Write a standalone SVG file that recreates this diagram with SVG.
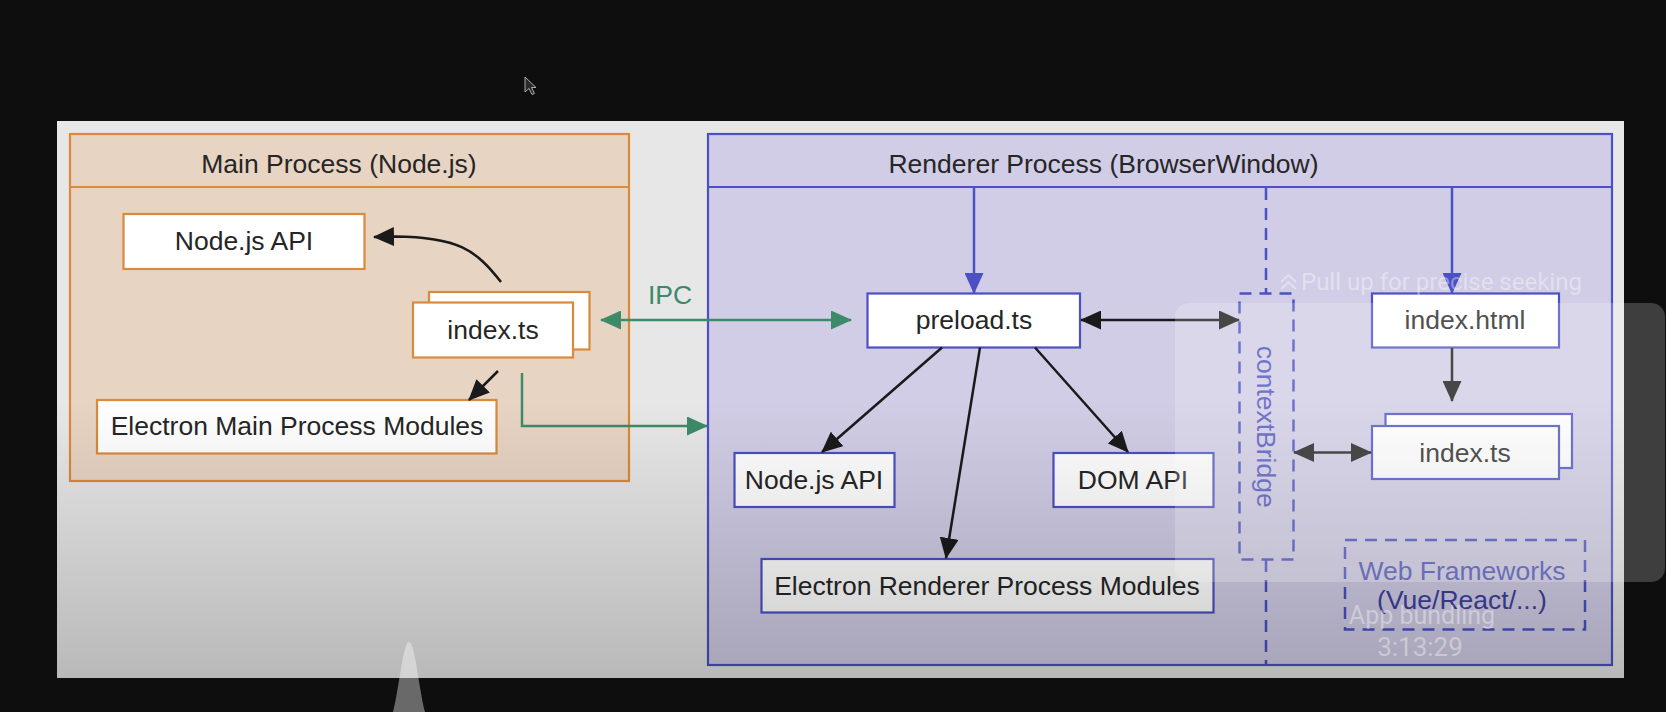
<svg xmlns="http://www.w3.org/2000/svg" width="1666" height="712" viewBox="0 0 1666 712">
<style>
text{font-family:"Liberation Sans",Arial,sans-serif;font-size:26.5px;fill:#262626}
.t{text-anchor:middle}
.nodeO{fill:#fff;stroke:#d98a3a;stroke-width:2.2}
.nodeB{fill:#fff;stroke:#4b50c4;stroke-width:2.2}
.blk{fill:none;stroke:#1a1a1a;stroke-width:2.5}
.blu{fill:none;stroke:#4b50c4;stroke-width:2.5}
.grn{fill:none;stroke:#3d8a68;stroke-width:2.5}
.dash{fill:none;stroke:#4b50c4;stroke-width:2.5;stroke-dasharray:12 8}
.yt{font-family:Roboto,"Liberation Sans",sans-serif;fill:#fff;fill-opacity:0.38}
</style>
<defs>
<marker id="aBlk" markerUnits="userSpaceOnUse" markerWidth="21" markerHeight="19" viewBox="0 0 21 19" refX="20" refY="9.5" orient="auto-start-reverse"><path d="M0,0 L21,9.5 L0,19 Z" fill="#1a1a1a"/></marker>
<marker id="aBlu" markerUnits="userSpaceOnUse" markerWidth="21" markerHeight="19" viewBox="0 0 21 19" refX="20" refY="9.5" orient="auto-start-reverse"><path d="M0,0 L21,9.5 L0,19 Z" fill="#4b50c4"/></marker>
<marker id="aGrn" markerUnits="userSpaceOnUse" markerWidth="21" markerHeight="19" viewBox="0 0 21 19" refX="20" refY="9.5" orient="auto-start-reverse"><path d="M0,0 L21,9.5 L0,19 Z" fill="#3d8a68"/></marker>
<linearGradient id="vig" x1="0" y1="0" x2="0" y2="1"><stop offset="0" stop-color="#000" stop-opacity="0"/><stop offset="1" stop-color="#000" stop-opacity="0.2"/></linearGradient>
</defs>
<rect width="1666" height="712" fill="#0e0e0e"/>
<rect x="57" y="121" width="1567" height="557" fill="#e7e7e7"/>

<g id="main-process">
<rect x="70" y="134" width="559" height="347" fill="#e8d4c3" stroke="#d98a3a" stroke-width="2.2"/>
<line x1="70" y1="187" x2="629" y2="187" stroke="#d98a3a" stroke-width="2.2"/>
<text class="t" x="339" y="173">Main Process (Node.js)</text>
</g>
<g id="renderer-process">
<rect x="708" y="134" width="904" height="531" fill="#d1cde6" stroke="#4b50c4" stroke-width="2.2"/>
<line x1="708" y1="187" x2="1612" y2="187" stroke="#4b50c4" stroke-width="2.2"/>
<text class="t" x="1103.5" y="173">Renderer Process (BrowserWindow)</text>
</g>

<g id="main-nodejs-api"><rect class="nodeO" x="123.5" y="214" width="241" height="55"/><text class="t" x="244" y="249.5">Node.js API</text></g>
<g id="main-index-ts"><rect class="nodeO" x="429" y="292" width="160.5" height="57.5"/><rect class="nodeO" x="413" y="302.5" width="160" height="55"/><text class="t" x="493" y="338.5">index.ts</text></g>
<g id="main-modules"><rect class="nodeO" x="97" y="400" width="399.5" height="53.5"/><text class="t" x="297" y="435">Electron Main Process Modules</text></g>

<g id="preload-ts"><rect class="nodeB" x="867.5" y="293.5" width="212.5" height="54"/><text class="t" x="974" y="328.5">preload.ts</text></g>
<g id="renderer-nodejs-api"><rect class="nodeB" x="734.5" y="453" width="160" height="54"/><text class="t" x="814" y="488.5">Node.js API</text></g>
<g id="dom-api"><rect class="nodeB" x="1053.5" y="453" width="160" height="54"/><text class="t" x="1133" y="488.5">DOM API</text></g>
<g id="renderer-modules"><rect class="nodeB" x="761.5" y="559" width="452" height="53.5"/><text class="t" x="987" y="594.5">Electron Renderer Process Modules</text></g>
<g id="context-bridge"><rect class="dash" x="1239.5" y="293.5" width="54" height="266"/><text class="t" transform="translate(1256.5,426.7) rotate(90)" style="fill:#4e53bd">contextBridge</text></g>
<g id="index-html"><rect class="nodeB" x="1372" y="293.5" width="187" height="54"/><text class="t" x="1465" y="328.5">index.html</text></g>
<g id="renderer-index-ts"><rect class="nodeB" x="1385.5" y="414" width="186.5" height="54"/><rect class="nodeB" x="1372" y="426" width="187" height="53"/><text class="t" x="1465" y="462">index.ts</text></g>
<g id="web-frameworks"><rect class="dash" x="1345" y="540" width="240" height="89.5"/><text class="t" x="1462" y="580" style="fill:#4e53bd">Web Frameworks</text><text class="t" x="1462" y="608.5" style="fill:#3c409c">(Vue/React/...)</text></g>

<g id="connectors">
<path class="blk" d="M501 282 C476 250 458 237 395 236.5 L374 237" marker-end="url(#aBlk)"/>
<path class="blk" d="M498 371 L469 400" marker-end="url(#aBlk)"/>
<path class="grn" d="M522 373 L522 426 L707 426" marker-end="url(#aGrn)"/>
<path class="grn" d="M601 320 L851 320" marker-start="url(#aGrn)" marker-end="url(#aGrn)"/>
<text x="648" y="303.5" style="fill:#3d8a68">IPC</text>
<path class="blu" d="M974 188 L974 293" marker-end="url(#aBlu)"/>
<path class="blu" d="M1452 188 L1452 293" marker-end="url(#aBlu)"/>
<path class="blk" d="M942 347.5 L822 452" marker-end="url(#aBlk)"/>
<path class="blk" d="M980 347.5 L946 558" marker-end="url(#aBlk)"/>
<path class="blk" d="M1035 347.5 L1128 452" marker-end="url(#aBlk)"/>
<path class="blk" d="M1081 320 L1239 320" marker-start="url(#aBlk)" marker-end="url(#aBlk)"/>
<path class="blk" d="M1452 348 L1452 401" marker-end="url(#aBlk)"/>
<path class="blk" d="M1294 452.5 L1371 452.5" marker-start="url(#aBlk)" marker-end="url(#aBlk)"/>
<path class="dash" d="M1266 188 L1266 293"/>
<path class="dash" d="M1266 560 L1266 665"/>
</g>

<rect x="57" y="400" width="1567" height="278" fill="url(#vig)"/>

<g id="player-overlay">
<rect x="1175" y="303" width="490" height="279" rx="14" fill="#fff" fill-opacity="0.2"/>
<path d="M1281 282 L1288.5 275 L1296 282 M1281 289 L1288.5 282 L1296 289" fill="none" stroke="#fff" stroke-opacity="0.38" stroke-width="2"/>
<text class="yt" x="1301" y="290" style="font-size:24px">Pull up for precise seeking</text>
<text class="yt" x="1422" y="624" text-anchor="middle" style="font-size:25px">App bundling</text>
<text class="yt" x="1420" y="656" text-anchor="middle" style="font-size:26px">3:13:29</text>
<path d="M393 712 C399 690 403 642 409 642 C415 642 419 690 425 712 Z" fill="#fff" fill-opacity="0.38"/>
<path d="M525 77 L525 92 L529 88.5 L532 94.5 L534.5 93.5 L531.5 87.5 L536 87.5 Z" fill="#2a2a2a" stroke="#aaa" stroke-width="1"/>
</g>
</svg>
